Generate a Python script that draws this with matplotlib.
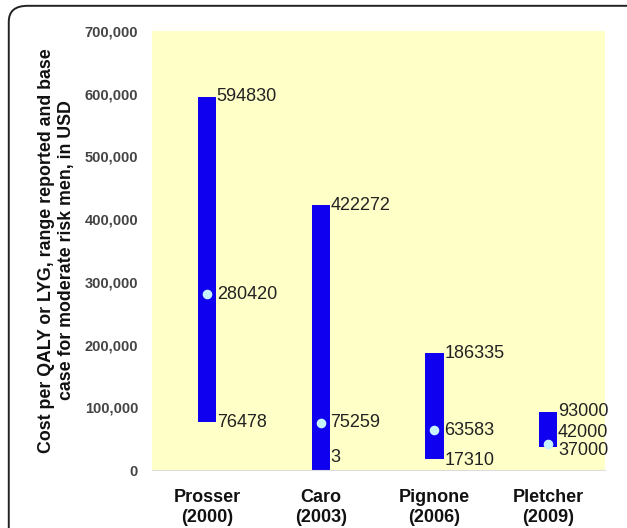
import matplotlib
matplotlib.use("Agg")
import matplotlib.pyplot as plt
from matplotlib.patches import FancyBboxPatch

studies = ["Prosser\n(2000)", "Caro\n(2003)", "Pignone\n(2006)", "Pletcher\n(2009)"]
low = [76478, 3, 17310, 37000]
high = [594830, 422272, 186335, 93000]
base = [280420, 75259, 63583, 42000]
yticks = [0, 100000, 200000, 300000, 400000, 500000, 600000, 700000]

plt.rcParams['font.family'] = ['Liberation Sans', 'DejaVu Sans']

fig = plt.figure(figsize=(6.27, 5.28), dpi=100, facecolor='white')
border = FancyBboxPatch((0.014, -0.05), 1.05, 1.039, boxstyle="round,pad=0,rounding_size=0.03",
                        transform=fig.transFigure, facecolor='none', edgecolor='#222222',
                        linewidth=1.4, zorder=-1)
fig.patches.append(border)

ax = fig.add_axes([0.2424, 0.1098, 0.7225, 0.8315])
ax.set_facecolor('#ffffc8')
x = [i + 0.5 for i in range(len(studies))]
w = 0.16
heights = [h - l for h, l in zip(high, low)]
ax.bar(x, heights, bottom=low, width=w, color='#1000f0', zorder=2)
ax.scatter(x, base, s=35, color='#c8f4ff', zorder=3)

ax.set_xlim(0.016, 4)
ax.set_ylim(0, 700000)
ax.set_yticks(yticks)
ax.set_yticklabels([f"{v:,}" for v in yticks], fontsize=10.5, fontweight='bold', color='#444444')
ax.set_xticks(x)
ax.set_xticklabels(studies, fontsize=13, fontweight='bold', color='#111111', linespacing=1.2)
ax.tick_params(axis='both', length=0)
ax.tick_params(axis='y', pad=10)
ax.tick_params(axis='x', pad=14)
for s in ['top', 'right', 'left']:
    ax.spines[s].set_visible(False)
ax.spines['bottom'].set_color('#dddddd')

ax.set_ylabel("Cost per QALY or LYG, range reported and base\ncase for moderate risk men, in USD",
              fontsize=12.8, fontweight='bold', color='#111111', labelpad=7, linespacing=1.2)

# label offsets in points (style only)
offs_low = [0, 9, -1, -3]
offs_base = [0, 0, 0, 8]
for xi, l, h, b, ol, ob in zip(x, low, high, base, offs_low, offs_base):
    for val, oy in ((h, 0), (l, ol), (b, ob)):
        ax.annotate(str(val), (xi + w / 2, val), xytext=(0.5, oy), textcoords='offset points',
                    ha='left', va='center', fontsize=13, color='#222222', zorder=4)

fig.savefig("out.png", dpi=100)
